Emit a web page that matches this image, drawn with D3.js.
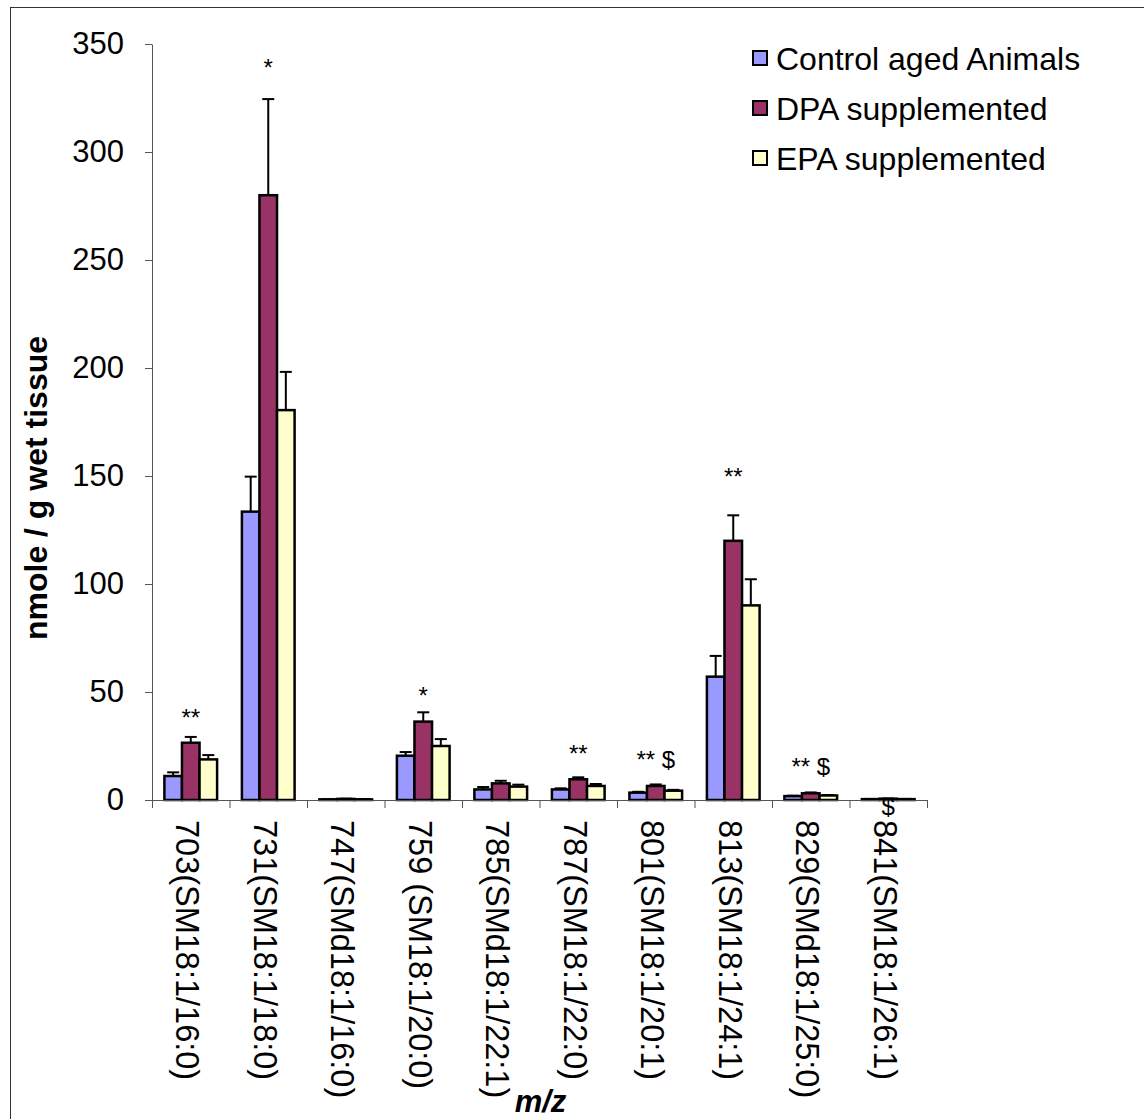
<!DOCTYPE html>
<html>
<head>
<meta charset="utf-8">
<script src="https://cdn.jsdelivr.net/npm/d3@7"></script>
<style>
    body { margin: 0; background: #fff; }
    svg { font-family: "Liberation Sans", Arial, sans-serif; display: block; }
</style>
</head>
<body>
<div id="chart"></div>
<script>
"use strict";

// m/z categories (x axis)
const categories = ['703(SM18:1/16:0)', '731(SM18:1/18:0)', '747(SMd18:1/16:0)',
    '759 (SM18:1/20:0)', '785(SMd18:1/22:1)', '787(SM18:1/22:0)',
    '801(SM18:1/20:1)', '813(SM18:1/24:1)', '829(SMd18:1/25:0)', '841(SM18:1/26:1)'];
const seriesNames = ['Control aged Animals', 'DPA supplemented', 'EPA supplemented'];
const seriesColors = ['#9999FF', '#993366', '#FFFFCC'];

// nmole / g wet tissue
const controlValues = [11.1, 133.5, 0.3, 20.5, 4.9, 4.9, 3.4, 57.1, 1.8, 0.4];
const controlErrors = [1.7, 16.2, 0.1, 1.7, 1.1, 0.5, 0.4, 9.6, 0.2, 0.1];
const dpaValues = [26.5, 280, 0.5, 36.3, 7.7, 9.6, 6.5, 120, 3.1, 0.6];
const dpaErrors = [2.7, 44.5, 0.1, 4.3, 1.2, 0.9, 0.7, 11.8, 0.4, 0.1];
const epaValues = [18.8, 180.5, 0.3, 25, 6.2, 6.5, 4.3, 90.1, 2.1, 0.4];
const epaErrors = [2.0, 17.7, 0.1, 3.2, 0.9, 0.9, 0.4, 12.1, 0.2, 0.1];

const yTicks = [0, 50, 100, 150, 200, 250, 300, 350];

// Significance marks: category, text, baseline value (data units)
const markCats = ['703(SM18:1/16:0)', '731(SM18:1/18:0)', '759 (SM18:1/20:0)',
    '787(SM18:1/22:0)', '801(SM18:1/20:1)', '813(SM18:1/24:1)',
    '829(SMd18:1/25:0)', '841(SM18:1/26:1)'];
const markTexts = ['**', '*', '*', '**', '** $', '**', '** $', '$'];
const markLevels = [34.4, 335, 44.6, 17.7, 14.8, 146, 11.4, -7];

const values = [controlValues, dpaValues, epaValues];
const errors = [controlErrors, dpaErrors, epaErrors];

const W = 1144, H = 1119;
const margin = {left: 152, top: 44, right: 217, bottom: 319};
const chartWidth = W - margin.left - margin.right;
const chartHeight = H - margin.top - margin.bottom;

let svg = d3.select('#chart').append('svg')
    .attr('width', W)
    .attr('height', H);

// Outer frame (runs off the right and bottom edges)
svg.append('rect')
    .attr('x', 10.5).attr('y', 7.5)
    .attr('width', W + 20).attr('height', H + 20)
    .attr('fill', 'none')
    .attr('stroke', '#333')
    .attr('stroke-width', 1);

let x = d3.scaleBand()
    .domain(categories)
    .range([0, chartWidth]);
let xSlots = d3.scaleLinear()  // Category boundaries for tick marks
    .domain([0, categories.length])
    .range([0, chartWidth]);
let xSub = d3.scaleBand()
    .domain(d3.range(seriesNames.length))
    .range([x.bandwidth() * 0.16, x.bandwidth() * 0.84]);
let y = d3.scaleLinear()
    .domain([0, 350])
    .range([chartHeight, 0]);

let g = svg.append('g')
    .attr('transform', 'translate(' + margin.left + ',' + margin.top + ')');

// Y axis
let yAxis = g.append('g')
    .call(d3.axisLeft(y).tickValues(yTicks).tickSize(7).tickSizeOuter(0).tickPadding(21));
yAxis.selectAll('text')
    .style('font-size', '31px')
    .attr('fill', '#000');
yAxis.selectAll('line, path').attr('stroke', '#555');

// Bars
let groups = g.selectAll('g.group')
    .data(categories)
    .enter().append('g')
    .classed('group', true)
    .attr('transform', function (d) { return 'translate(' + x(d) + ',0)'; });

groups.each(function (cat, ci) {
    let grp = d3.select(this);
    seriesNames.forEach(function (s, si) {
        let v = values[si][ci];
        let e = errors[si][ci];
        let cx = xSub(si) + xSub.bandwidth() / 2;
        // Error bar, upward only
        grp.append('line')
            .attr('x1', cx).attr('x2', cx)
            .attr('y1', y(v)).attr('y2', y(v + e))
            .attr('stroke', '#000').attr('stroke-width', 2);
        grp.append('line')
            .attr('x1', cx - 6).attr('x2', cx + 6)
            .attr('y1', y(v + e)).attr('y2', y(v + e))
            .attr('stroke', '#000').attr('stroke-width', 2);
        grp.append('rect')
            .attr('x', xSub(si))
            .attr('y', y(v))
            .attr('width', xSub.bandwidth())
            .attr('height', y(0) - y(v))
            .attr('fill', seriesColors[si])
            .attr('stroke', '#000')
            .attr('stroke-width', 2.5);
    });
});

// X axis: line plus ticks on category boundaries
let xAxis = g.append('g')
    .attr('transform', 'translate(0,' + chartHeight + ')')
    .call(d3.axisBottom(xSlots)
        .tickValues(d3.range(categories.length + 1))
        .tickSize(8).tickSizeOuter(0)
        .tickFormat(''));
xAxis.selectAll('line, path').attr('stroke', '#555');

// Rotated category labels
g.selectAll('text.cat')
    .data(categories)
    .enter().append('text')
    .classed('cat', true)
    .attr('transform', function (d) {
        return 'translate(' + (x(d) + x.bandwidth() / 2 - 3) + ',' + (chartHeight + 20) + ') rotate(90)';
    })
    .attr('dy', '0.35em')
    .style('font-size', '32.5px')
    .text(function (d) { return d; });

// Significance marks
g.selectAll('text.mark')
    .data(markCats)
    .enter().append('text')
    .classed('mark', true)
    .attr('x', function (d) { return x(d) + x.bandwidth() / 2; })
    .attr('y', function (d, i) { return y(markLevels[i]); })
    .attr('text-anchor', 'middle')
    .style('font-size', '24px')
    .text(function (d, i) { return markTexts[i]; });

// Axis titles
svg.append('text')
    .attr('transform', 'translate(47,' + 488 + ') rotate(-90)')
    .attr('text-anchor', 'middle')
    .style('font-size', '32px')
    .style('font-weight', 'bold')
    .text('nmole / g wet tissue');
svg.append('text')
    .attr('x', margin.left + chartWidth / 2 + 1)
    .attr('y', 1112)
    .attr('text-anchor', 'middle')
    .style('font-size', '31px')
    .style('font-weight', 'bold')
    .style('font-style', 'italic')
    .text('m/z');

// Legend
let legend = svg.append('g')
    .attr('transform', 'translate(752,0)');
seriesNames.forEach(function (s, i) {
    let base = 70 + i * 50;
    legend.append('rect')
        .attr('x', 1).attr('y', base - 19)
        .attr('width', 14).attr('height', 14)
        .attr('fill', seriesColors[i])
        .attr('stroke', '#000')
        .attr('stroke-width', 2);
    legend.append('text')
        .attr('x', 24).attr('y', base)
        .style('font-size', '32px')
        .text(s);
});
</script>
</body>
</html>
